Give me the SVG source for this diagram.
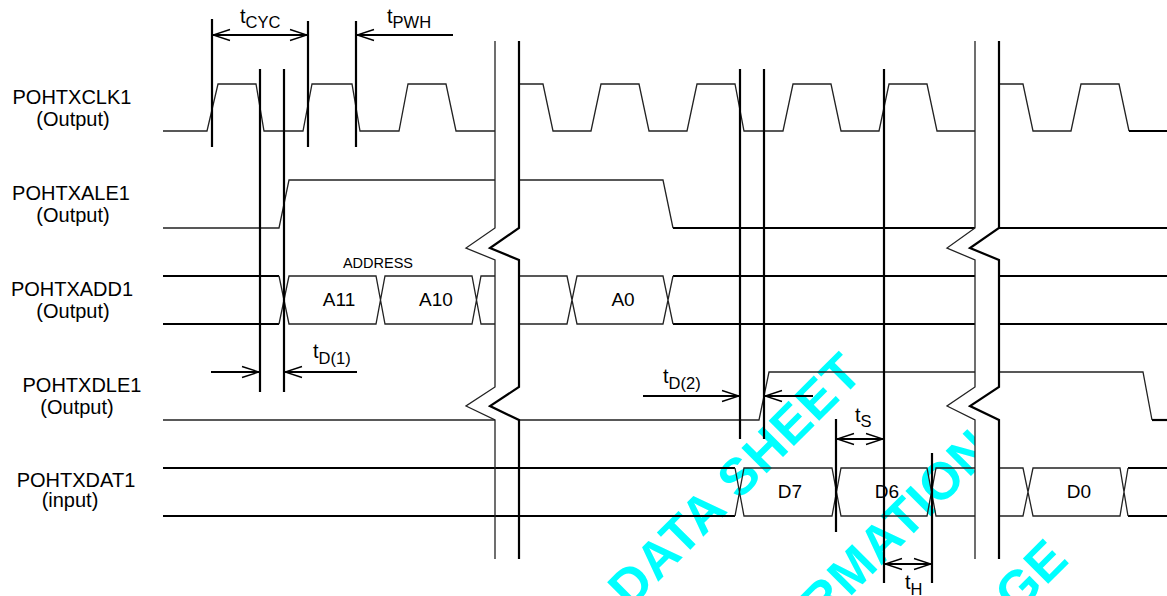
<svg xmlns="http://www.w3.org/2000/svg" width="1167" height="596" viewBox="0 0 1167 596">
<style>
.wm{font-family:"Liberation Sans",Arial,sans-serif;font-weight:bold;font-size:52px;fill:#00FFFF;letter-spacing:1px}
.lbl{font-family:"Liberation Sans",Arial,sans-serif;font-size:20px;fill:#000;text-anchor:middle}
.cell{font-family:"Liberation Sans",Arial,sans-serif;font-size:19px;fill:#000;text-anchor:middle}
.small{font-family:"Liberation Sans",Arial,sans-serif;font-size:14.5px;fill:#000;text-anchor:middle}
.t{font-family:"Liberation Sans",Arial,sans-serif;font-size:20px;fill:#000}
.sub{font-size:16.5px}
.thin{fill:none;stroke:#222;stroke-width:1.3}
.thick{fill:none;stroke:#000;stroke-width:2.2}
.vl{fill:none;stroke:#000;stroke-width:2.2}
.arr{fill:none;stroke:#000;stroke-width:2}
.brk{fill:#fff;stroke:none}
</style>
<defs>
<marker id="ah" viewBox="-18 -7 20 14" refX="0" refY="0" markerWidth="20" markerHeight="14" markerUnits="userSpaceOnUse" orient="auto-start-reverse">
<path d="M-17,-5.5 L0,0 L-17,5.5" fill="none" stroke="#000" stroke-width="1.4"/>
</marker>
</defs>
<rect width="1167" height="596" fill="#fff"/>

<g id="watermark">
<text class="wm" transform="translate(630,610) rotate(-45)">DATA SHEET</text>
<text class="wm" transform="translate(822,625) rotate(-45)">RMATION</text>
<text class="wm" text-anchor="end" transform="translate(1071,561) rotate(-45)">GE</text>
</g>

<g id="break-fills">
<path class="brk" d="M495,41 H519 V228 L490,248 L519,260 V387 L490,406 L519,420 V559 H495 V420 L466,406 L495,387 V260 L466,248 L495,228 Z"/>
<path class="brk" d="M975,41 H999 V228 L970,248 L999,260 V387 L970,406 L999,420 V559 H975 V420 L947,406 L975,387 V260 L947,248 L975,228 Z"/>
</g>

<g id="labels">
<text class="lbl" x="72" y="104">POHTXCLK1</text>
<text class="lbl" x="73" y="126">(Output)</text>
<text class="lbl" x="71" y="200">POHTXALE1</text>
<text class="lbl" x="73" y="222">(Output)</text>
<text class="lbl" x="72" y="296">POHTXADD1</text>
<text class="lbl" x="73" y="318">(Output)</text>
<text class="lbl" x="82" y="392">POHTXDLE1</text>
<text class="lbl" x="77" y="414">(Output)</text>
<text class="lbl" x="76" y="487">POHTXDAT1</text>
<text class="lbl" x="70" y="507">(input)</text>
</g>

<g id="POHTXCLK1">
<path class="thin" d="M163,131 H207 L218,84 H256 L264,131 H303 L312,84 H352 L360,131 H399 L408,84 H446 L456,131 H495"/>
<path class="thin" d="M519,84 H543 L553,131 H591 L601,84 H639 L649,131 H687 L697,84 H735 L744,131 H783 L793,84 H831 L841,131 H879 L889,84 H927 L937,131 H975"/>
<path class="thin" d="M999,84 H1023 L1033,131 H1071 L1081,84 H1119 L1129,131"/>
<path class="thick" d="M1129,131 H1167"/>
</g>

<g id="POHTXALE1">
<path class="thin" d="M163,228 H279 L289,180 H495"/>
<path class="thin" d="M519,180 H663 L673,228"/>
<path class="thick" d="M673,228 H975 M999,228 H1167"/>
</g>

<g id="POHTXADD1">
<path class="thick" d="M163,276 H279 M163,324 H279 M673,276 H975 M673,324 H975 M999,276 H1167 M999,324 H1167"/>
<path class="thin" d="M279,276 L289,324 H376 L385,276 H472 L481,324 H495 M279,324 L289,276 H376 L385,324 H472 L481,276 H495"/>
<path class="thin" d="M519,276 H567 L577,324 H663 L673,276 M519,324 H567 L577,276 H663 L673,324"/>
<text class="small" x="378" y="268">ADDRESS</text>
<text class="cell" x="339" y="306">A11</text>
<text class="cell" x="436" y="306">A10</text>
<text class="cell" x="623" y="306">A0</text>
</g>

<g id="POHTXDLE1">
<path class="thin" d="M163,420 H495"/>
<path class="thin" d="M519,420 H759 L769,372 H975"/>
<path class="thin" d="M999,372 H1143 L1152,420"/>
<path class="thick" d="M1152,420 H1167"/>
</g>

<g id="POHTXDAT1">
<path class="thick" d="M163,468 H735 M163,516 H735 M1128,468 H1167 M1128,516 H1167"/>
<path class="thin" d="M735,468 L744,516 H832 L841,468 H927 L936,516 H975 M735,516 L744,468 H832 L841,516 H927 L936,468 H975"/>
<path class="thin" d="M999,468 H1023 L1033,516 H1120 L1128,468 M999,516 H1023 L1033,468 H1120 L1128,516"/>
<text class="cell" x="790" y="498">D7</text>
<text class="cell" x="887" y="498">D6</text>
<text class="cell" x="1079" y="498">D0</text>
</g>

<g id="breaks">
<path class="thin" d="M495,41 V228 L466,248 L495,260 V387 L466,406 L495,420 V559"/>
<path class="thick" d="M519,41 V228 L490,248 L519,260 V387 L490,406 L519,420 V559"/>
<path class="thin" d="M975,41 V228 L947,248 L975,260 V387 L947,406 L975,420 V559"/>
<path class="thick" d="M999,41 V228 L970,248 L999,260 V387 L970,406 L999,420 V559"/>
</g>

<g id="connectors">
<path class="vl" d="M212,19 V147 M308,21 V147 M356,21 V147 M260,69 V392 M284,69 V392 M740,69 V439 M764,69 V439 M884,69 V583 M836,419 V532 M932,453 V583"/>
<path class="arr" d="M213,35 H307" marker-start="url(#ah)" marker-end="url(#ah)"/>
<path class="arr" d="M453,35 H357" marker-end="url(#ah)"/>
<path class="arr" d="M211,372 H259" marker-end="url(#ah)"/>
<path class="arr" d="M357,372 H285" marker-end="url(#ah)"/>
<path class="arr" d="M643,396 H739" marker-end="url(#ah)"/>
<path class="arr" d="M813,396 H765" marker-end="url(#ah)"/>
<path class="arr" d="M837,439 H883" marker-start="url(#ah)" marker-end="url(#ah)"/>
<path class="arr" d="M885,564 H931" marker-start="url(#ah)" marker-end="url(#ah)"/>
</g>

<g id="timing-labels">
<text class="t" x="240" y="23">t<tspan class="sub" dy="5">CYC</tspan></text>
<text class="t" x="387" y="23">t<tspan class="sub" dy="5">PWH</tspan></text>
<text class="t" x="313" y="358">t<tspan class="sub" dy="6">D(1)</tspan></text>
<text class="t" x="663" y="383">t<tspan class="sub" dy="6">D(2)</tspan></text>
<text class="t" x="855" y="422">t<tspan class="sub" dy="5">S</tspan></text>
<text class="t" x="905" y="589">t<tspan class="sub" dy="6">H</tspan></text>
</g>
</svg>
